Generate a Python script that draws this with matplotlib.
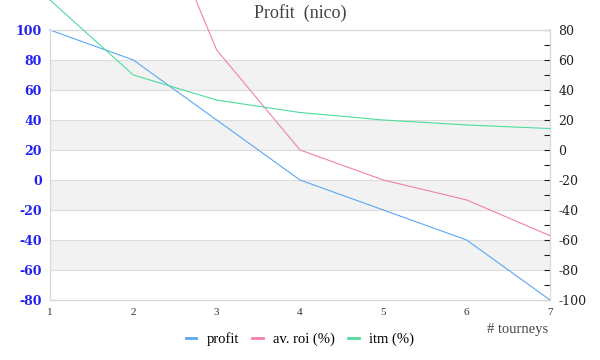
import matplotlib
matplotlib.use("Agg")
import matplotlib.pyplot as plt
from matplotlib.ticker import MultipleLocator
from matplotlib.lines import Line2D

plt.rcParams["axes.unicode_minus"] = False

tourneys = [1, 2, 3, 4, 5, 6, 7]
profit = [100, 80, 40, 0, -20, -40, -80]
av_roi = [400, 200, 66.7, 0, -20, -33.3, -57.1]
itm = [100, 50, 33.3, 25, 20, 16.7, 14.3]
left_ticks = [-80, -60, -40, -20, 0, 20, 40, 60, 80, 100]
right_ticks = [-100, -80, -60, -40, -20, 0, 20, 40, 60, 80]
bands = [(60, 80), (20, 40), (-20, 0), (-60, -40)]

c_profit = "#5aa8f0"
c_roi = "#f07fb2"
c_itm = "#4fdc9c"
serif = ["Liberation Serif", "DejaVu Serif"]
wide = ["DejaVu Serif"]

fig = plt.figure(figsize=(6, 3.6), dpi=100)
ax = fig.add_axes([50/600, 60/360, 500/600, 270/360])
ax2 = ax.twinx()

ax.set_xlim(1, 7)
ax.set_ylim(-80, 100)
ax2.set_ylim(-100, 80)

for lo, hi in bands:
    ax.axhspan(lo, hi, color="#f2f2f2", zorder=0, lw=0)
for v in left_ticks:
    ax.axhline(v, color="#dddddd", lw=0.8, zorder=1)

ax.plot(tourneys, profit, color=c_profit, lw=0.8, clip_on=False, zorder=3)
ax2.plot(tourneys, av_roi, color=c_roi, lw=0.8, clip_on=False, zorder=3)
ax2.plot(tourneys, itm, color=c_itm, lw=0.8, clip_on=False, zorder=3)

for a in (ax, ax2):
    for s in a.spines.values():
        s.set_color("#d8d8d8")
        s.set_linewidth(0.8)

ax.set_yticks(left_ticks)
ax.tick_params(axis="y", length=0, labelcolor="#2222ee", labelsize=9, pad=6)
for lab in ax.get_yticklabels():
    lab.set_fontfamily(wide)
    lab.set_fontweight("semibold")

ax.set_xticks(tourneys)
ax.tick_params(axis="x", length=0, labelcolor="#333333", labelsize=8, pad=6)
for lab in ax.get_xticklabels():
    lab.set_fontfamily(serif)

ax2.set_yticks(right_ticks)
ax2.yaxis.set_minor_locator(MultipleLocator(10))
ax2.tick_params(axis="y", which="both", direction="in", length=4, width=0.8,
                color="#222222", labelcolor="#222222", labelsize=9, pad=6)
for lab in ax2.get_yticklabels():
    lab.set_fontfamily(wide)

fig.text(0.5, 0.965, "Profit  (nico)", ha="center", va="center",
         fontsize=13, color="#444444", family=serif)
fig.text(548/600, 1 - 330/360, "# tourneys", ha="right", va="center",
         fontsize=10.5, color="#444444", family=serif)

handles = [Line2D([], [], color=c_profit, lw=2),
           Line2D([], [], color=c_roi, lw=2),
           Line2D([], [], color=c_itm, lw=2)]
fig.legend(handles, ["profit", "av. roi (%)", "itm (%)"], loc="center",
           bbox_to_anchor=(0.5, 1 - 339/360), ncol=3, frameon=False,
           handlelength=0.75, handletextpad=0.7, columnspacing=0.9,
           prop={"family": serif, "size": 10.5})

fig.savefig("out.png", dpi=100)
